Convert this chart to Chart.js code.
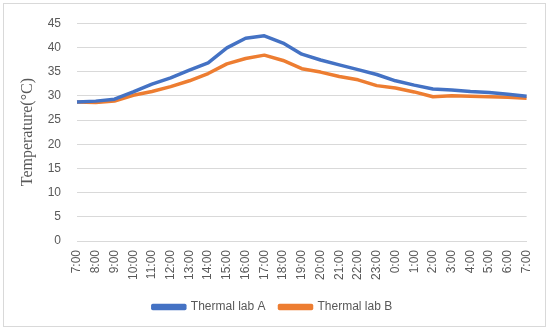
<!DOCTYPE html>
<html>
<head>
<meta charset="utf-8">
<script src="https://cdn.jsdelivr.net/npm/chart.js@4"></script>
<style>
    body { margin: 0; background: #fff; }
    #wrap { position: relative; width: 550px; height: 331px; }
    #frame { position: absolute; left: 3px; top: 3px; width: 541px; height: 322px; border: 1px solid #d9d9d9; pointer-events: none; }
</style>
</head>
<body>
<div id="wrap">
    <canvas id="tempChart" width="550" height="331"></canvas>
    <div id="frame"></div>
</div>
<script>
// Data
const hours = ['7:00', '8:00', '9:00', '10:00', '11:00', '12:00', '13:00', '14:00', '15:00', '16:00',
    '17:00', '18:00', '19:00', '20:00', '21:00', '22:00', '23:00', '0:00', '1:00', '2:00',
    '3:00', '4:00', '5:00', '6:00', '7:00'];
const labA = [28.7, 28.9, 29.3, 30.8, 32.4, 33.7, 35.3, 36.8, 39.9, 41.9,
    42.4, 40.9, 38.6, 37.4, 36.4, 35.4, 34.4, 33.1, 32.2, 31.4,
    31.2, 30.9, 30.7, 30.3, 29.9];
const labB = [28.7, 28.6, 28.9, 30.1, 30.9, 31.9, 33.1, 34.6, 36.6, 37.7,
    38.4, 37.3, 35.6, 34.9, 34.0, 33.3, 32.1, 31.6, 30.8, 29.8,
    30.0, 29.9, 29.8, 29.7, 29.5];
const yTicks = { min: 0, max: 45, step: 5 };

const grey = '#595959';
const gridGrey = '#d9d9d9';

const ctx = document.getElementById('tempChart').getContext('2d');
new Chart(ctx, {
    type: 'line',
    data: {
        labels: hours,
        datasets: [{
            label: 'Thermal lab A',
            data: labA,
            borderColor: '#4472C4',
            backgroundColor: '#4472C4',
            borderWidth: 3.5,
            pointRadius: 0,
            tension: 0,
            borderJoinStyle: 'round'
        }, {
            label: 'Thermal lab B',
            data: labB,
            borderColor: '#ED7D31',
            backgroundColor: '#ED7D31',
            borderWidth: 3.5,
            pointRadius: 0,
            tension: 0,
            borderJoinStyle: 'round'
        }]
    },
    options: {
        responsive: false,
        animation: false,
        layout: { padding: { left: 18, right: 23, top: 20, bottom: 8 } },
        scales: {
            x: {
                offset: false,
                grid: { display: false, drawTicks: false },
                border: { display: true, color: gridGrey, width: 1 },
                ticks: {
                    color: grey,
                    font: { family: 'Liberation Sans', size: 12 },
                    minRotation: 90,
                    maxRotation: 90,
                    autoSkip: false,
                    padding: 9
                },
                afterFit: (scale) => { scale.height = 46; }
            },
            y: {
                min: yTicks.min,
                max: yTicks.max,
                grid: { color: gridGrey, drawTicks: false },
                border: { display: false },
                ticks: {
                    stepSize: yTicks.step,
                    color: grey,
                    font: { family: 'Liberation Sans', size: 12 },
                    padding: 16
                },
                title: {
                    display: true,
                    text: 'Temperature(°C)',
                    color: grey,
                    font: { family: 'Liberation Serif', size: 16 },
                    padding: 0
                },
                afterFit: (scale) => { scale.width = 59; }
            }
        },
        plugins: {
            legend: {
                position: 'bottom',
                labels: {
                    color: grey,
                    font: { family: 'Liberation Sans', size: 12 },
                    boxWidth: 32,
                    boxHeight: 3,
                    padding: 14
                }
            },
            tooltip: { enabled: false }
        }
    }
});
</script>
</body>
</html>
